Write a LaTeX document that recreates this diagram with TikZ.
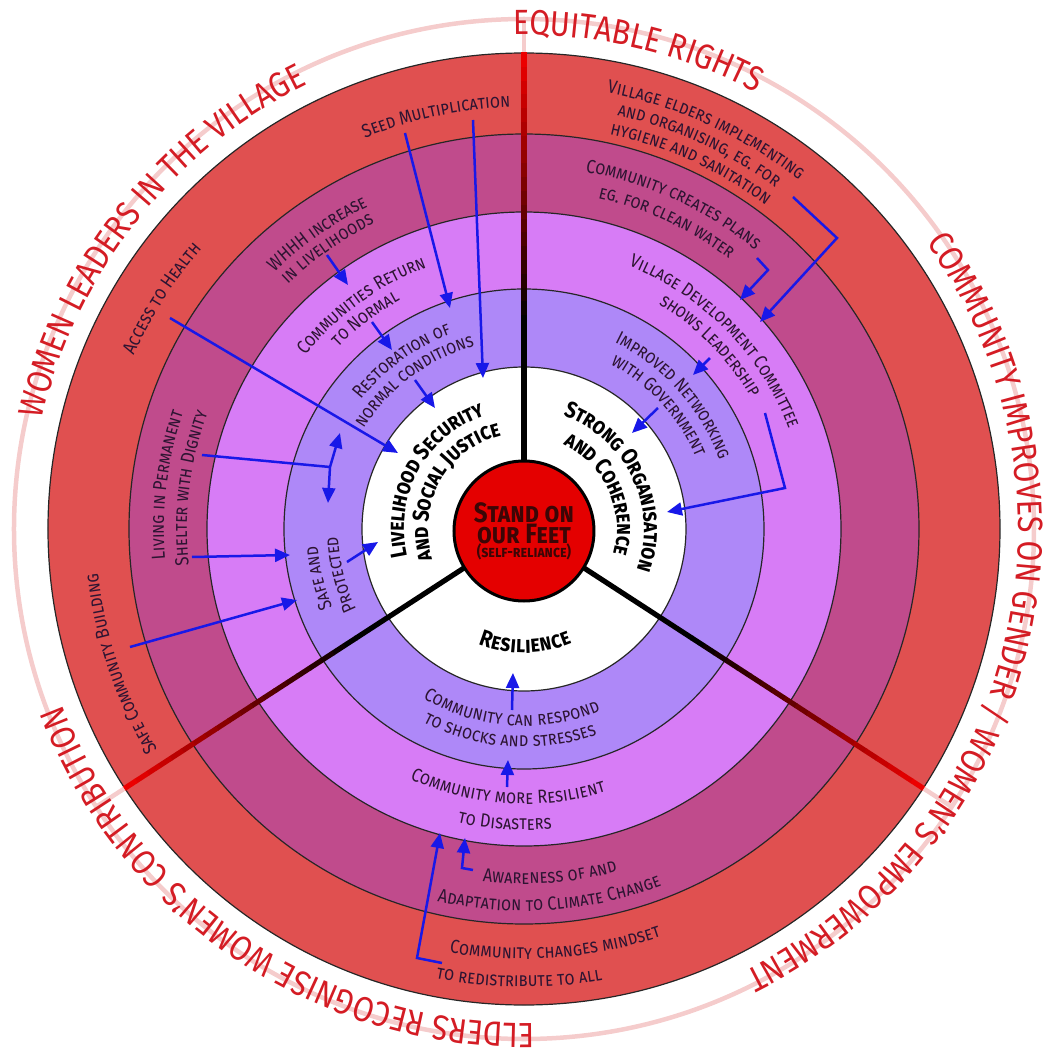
\documentclass[tikz,border=0pt]{standalone}
\usepackage{fontspec}
\setmainfont{Fira Sans}[FakeStretch=0.86]
\usetikzlibrary{decorations.text,arrows.meta}

\definecolor{ringred}{RGB}{224,80,80}
\definecolor{ringplum}{RGB}{192,75,140}
\definecolor{ringpink}{RGB}{215,124,246}
\definecolor{ringlav}{RGB}{174,136,248}
\definecolor{corered}{RGB}{228,0,0}
\definecolor{spokered}{RGB}{236,0,0}
\definecolor{palering}{RGB}{245,204,204}
\definecolor{rimred}{RGB}{212,28,36}
\definecolor{labelink}{RGB}{45,20,50}
\definecolor{coreink}{RGB}{60,6,6}
\definecolor{linkblue}{RGB}{24,24,232}

\newcommand\bandfont{\fontsize{19}{22}\selectfont\scshape\color{labelink}}
\newcommand\hubfont{\fontsize{23}{26}\selectfont\bfseries\scshape\color{black}}
\newcommand\rimfont{\fontsize{35}{38}\selectfont\color{rimred}}

% text along an arc, tops outward (clockwise) or inward (counter-clockwise)
\newcommand\cwline[4][\bandfont]{%
  \path[decorate,decoration={text along path,text align=center,raise=-4pt,
    text={|#1|#4}}] (#2+90:#3) arc[start angle=#2+90,end angle=#2-90,radius=#3];}
\newcommand\ccwline[4][\bandfont]{%
  \path[decorate,decoration={text along path,text align=center,raise=-4pt,
    text={|#1|#4}}] (#2-90:#3) arc[start angle=#2-90,end angle=#2+90,radius=#3];}

\tikzset{
  ringline/.style={draw=black!85,line width=1.2pt},
  pale/.style={draw=palering,line width=4.5pt},
  spoke/.style={draw=black,line width=5.2pt},
  link/.style={draw=linkblue,line width=2.5pt,-{Triangle[length=15pt,width=13pt]}},
  core/.style={circle,fill=corered,draw=black,line width=3pt,minimum size=140pt,
    inner sep=0pt,align=center,text=coreink},
}

\begin{document}
\begin{tikzpicture}[x=1pt,y=1pt]
  \useasboundingbox (-524,-532) rectangle (527,529);

  % rings
  \draw[pale] (0,0) circle (510);
  \filldraw[ringline,fill=ringred] (0,0) circle (476);
  \filldraw[ringline,fill=ringplum] (0,0) circle (395);
  \filldraw[ringline,fill=ringpink] (0,0) circle (317);
  \filldraw[ringline,fill=ringlav] (0,0) circle (240);
  \filldraw[ringline,fill=white] (0,0) circle (162);

  % spokes, black at the hub, red at the rim
  \foreach \a in {90,213,327}{
    \draw[pale] (\a:476) -- (\a:510);
    \draw[spoke] (\a:60) -- (\a:201);
    \foreach \i [evaluate=\i as \p using 100*\i/19] in {0,...,19}
      \draw[spoke,draw=spokered!\p!black] (\a:{200+13.8*\i}) -- (\a:{214.4+13.8*\i});
  }

  \node[core] (core) at (0,-2) {\fontsize{28}{21}\selectfont\bfseries\scshape Stand on\\
    \fontsize{28}{22}\selectfont\bfseries\scshape our Feet\\[-1pt]
    \fontsize{16}{16}\selectfont\bfseries\scshape (self-reliance)};

  % rim
  \cwline[\rimfont]{141.6}{498}{WOMEN LEADERS IN THE VILLAGE}
  \cwline[\rimfont]{76.6}{498}{EQUITABLE RIGHTS}
  \cwline[\rimfont]{-14}{498}{COMMUNITY IMPROVES ON GENDER / WOMEN’S EMPOWERMENT}
  \cwline[\rimfont]{-124}{498}{ELDERS RECOGNISE WOMEN’S CONTRIBUTION}

  % red band
  \cwline{102}{426}{Seed Multiplication}
  \cwline{147.5}{431}{Access to Health}
  \cwline{198.5}{432}{Safe Community Building}
  \cwline{65.5}{448}{Village elders implementing}
  \cwline{65.5}{428}{and organising, eg. for}
  \cwline{65.5}{408}{hygiene and sanitation}
  \ccwline{274.3}{426}{Community changes mindset}
  \ccwline{269.4}{454}{to redistribute to all}

  % plum band
  \cwline{125}{362}{WHHH increase}
  \cwline{125}{344}{in livelihoods}
  \cwline{173}{364}{Living in Permanent}
  \cwline{173}{341}{Shelter with Dignity}
  \cwline{65.3}{366}{Community creates plans}
  \cwline{65.1}{343}{eg. for clean water}
  \ccwline{274.3}{351}{Awareness of and}
  \ccwline{274}{378}{Adaptation to Climate Change}

  % pink band
  \cwline{126}{283}{Communities Return}
  \cwline{127}{264}{to Normal}
  \cwline{44.5}{287}{Village Development Committee}
  \cwline{44.5}{266}{shows Leadership}
  \ccwline{266.4}{271}{Community more Resilient}
  \ccwline{266.3}{297}{to Disasters}

  % lavender band
  \cwline{126}{212}{Restoration of}
  \cwline{126.5}{193}{normal conditions}
  \cwline{193.5}{211}{Safe and}
  \cwline{194}{190}{Protected}
  \cwline{41.7}{211}{Improved Networking}
  \cwline{42.5}{190}{with Government}
  \ccwline{266}{193}{Community can respond}
  \ccwline{266}{214}{to shocks and stresses}

  % hub
  \cwline[\hubfont]{151}{124}{Livelihood Security}
  \cwline[\hubfont]{151}{100}{and Social Justice}
  \cwline[\hubfont]{25.5}{124}{Strong Organisation}
  \cwline[\hubfont]{24.5}{97}{and Coherence}
  \ccwline[\hubfont]{270.5}{120}{Resilience}

  % arrow ends
  \coordinate (seedA) at (-119,396);   \coordinate (seedAend) at (-74,221);
  \coordinate (seedB) at (-51,409);    \coordinate (seedBend) at (-41,151);
  \coordinate (whhh) at (-197,274);    \coordinate (whhhend) at (-176,244);
  \coordinate (normal) at (-152,207);  \coordinate (normalend) at (-132,179);
  \coordinate (restore) at (-109,149); \coordinate (restoreend) at (-89,121);
  \coordinate (health) at (-354,211);  \coordinate (healthend) at (-126,76);
  \coordinate (shelterA) at (-322,74); \coordinate (fork) at (-194,62);
  \coordinate (forkup) at (-184,96);   \coordinate (forkdown) at (-196,26);
  \coordinate (shelterB) at (-332,-28); \coordinate (shelterBend) at (-234,-26);
  \coordinate (building) at (-394,-118); \coordinate (buildingend) at (-227,-71);
  \coordinate (safe) at (-177,-33);    \coordinate (safeend) at (-146,-13);
  \coordinate (elders) at (269,332);   \coordinate (eldersbend) at (313,291);
  \coordinate (eldersend) at (236,207);
  \coordinate (plans) at (233,271);    \coordinate (plansbend) at (244,259);
  \coordinate (plansend) at (216,229);
  \coordinate (vdcA) at (186,171);     \coordinate (vdcAend) at (169,154);
  \coordinate (vdcB) at (241,116);     \coordinate (vdcBbend) at (261,41);
  \coordinate (vdcBend) at (143,17);
  \coordinate (network) at (134,121);  \coordinate (networkend) at (108,96);
  \coordinate (respond) at (-12,-181); \coordinate (respondend) at (-11,-144);
  \coordinate (disaster) at (-17,-258); \coordinate (disasterend) at (-16,-231);
  \coordinate (climate) at (-51,-341); \coordinate (climatebend) at (-62,-339);
  \coordinate (climateend) at (-59,-309);
  \coordinate (mindset) at (-82,-434); \coordinate (mindsetbend) at (-107,-429);
  \coordinate (mindsetend) at (-84,-304);

  % arrows
  \draw[link] (seedA) -- (seedAend);
  \draw[link] (seedB) -- (seedBend);
  \draw[link] (whhh) -- (whhhend);
  \draw[link] (normal) -- (normalend);
  \draw[link] (restore) -- (restoreend);
  \draw[link] (health) -- (healthend);
  \draw[link,-] (shelterA) -- (fork);
  \draw[link] (fork) -- (forkup);
  \draw[link] (fork) -- (forkdown);
  \draw[link] (shelterB) -- (shelterBend);
  \draw[link] (building) -- (buildingend);
  \draw[link] (safe) -- (safeend);
  \draw[link] (elders) -- (eldersbend) -- (eldersend);
  \draw[link] (plans) -- (plansbend) -- (plansend);
  \draw[link] (vdcA) -- (vdcAend);
  \draw[link] (vdcB) -- (vdcBbend) -- (vdcBend);
  \draw[link] (network) -- (networkend);
  \draw[link] (respond) -- (respondend);
  \draw[link] (disaster) -- (disasterend);
  \draw[link] (climate) -- (climatebend) -- (climateend);
  \draw[link] (mindset) -- (mindsetbend) -- (mindsetend);
\end{tikzpicture}
\end{document}
